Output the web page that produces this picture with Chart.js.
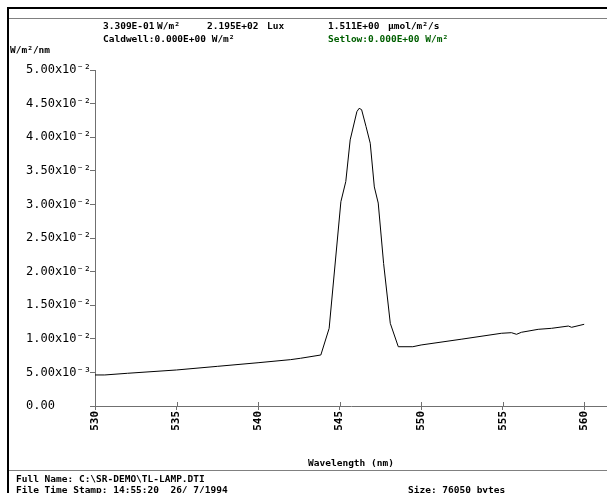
<!DOCTYPE html>
<html>
<head>
<meta charset="utf-8">
<script src="https://cdn.jsdelivr.net/npm/chart.js@4.4.0/dist/chart.umd.min.js"></script>
<style>
  html, body { margin: 0; padding: 0; background: #fff; }
  #wrap { position: relative; width: 607px; height: 493px; overflow: hidden;
          font-family: "DejaVu Sans Mono", monospace; font-size: 9.5px; font-weight: bold; color: #000; }
  #wrap canvas { position: absolute; left: 0; top: 0; }
  .t { position: absolute; white-space: pre; line-height: 12px; }
  .hl { position: absolute; left: 8px; right: 0; height: 0; }
</style>
</head>
<body>
<div id="wrap">
  <canvas id="chart" width="607" height="493"></canvas>

  <!-- cadre -->
  <div class="hl" style="top:7px;border-top:2px solid #000"></div>
  <div class="hl" style="top:18px;border-top:1px solid #808080"></div>
  <div class="hl" style="top:470px;border-top:1px solid #808080"></div>
  <div style="position:absolute;left:7px;top:7px;bottom:0;border-left:2px solid #000"></div>

  <!-- en-tête -->
  <div class="t" style="left:103px;top:20px">3.309E-01</div>
  <div class="t" style="left:157px;top:20px">W/m²</div>
  <div class="t" style="left:207px;top:20px">2.195E+02</div>
  <div class="t" style="left:267px;top:20px">Lux</div>
  <div class="t" style="left:328px;top:20px">1.511E+00</div>
  <div class="t" style="left:388px;top:20px">µmol/m²/s</div>
  <div class="t" style="left:103px;top:33px">Caldwell:0.000E+00 W/m²</div>
  <div class="t" style="left:328px;top:33px;color:#005f00">Setlow:0.000E+00 W/m²</div>
  <div class="t" style="left:10px;top:44px">W/m²/nm</div>

  <!-- pied -->
  <div class="t" style="left:16px;top:473px">Full Name: C:\SR-DEMO\TL-LAMP.DTI</div>
  <div class="t" style="left:16px;top:484px">File Time Stamp: 14:55:20  26/ 7/1994</div>
  <div class="t" style="left:408px;top:484px">Size: 76050 bytes</div>
</div>

<script>
// Spectre lampe TL (W/m²/nm)
const wavelength = [530.0, 530.6, 532.0, 535.0, 537.5, 540.0, 542.0, 542.6, 543.85, 544.36,
  545.08, 545.38, 545.65, 546.06, 546.2, 546.35, 546.62, 546.88, 547.13, 547.37,
  547.7, 548.11, 548.6, 549.49, 550.0, 552.5, 554.92, 555.54, 555.85, 556.15,
  557.18, 558.0, 559.03, 559.23, 560.0];
const irradiance = [0.00462, 0.00462, 0.00487, 0.00536, 0.0059, 0.00644, 0.0069, 0.0071, 0.00759, 0.01156,
  0.0304, 0.0334, 0.0396, 0.0438, 0.0443, 0.0441, 0.0416, 0.0391, 0.0326, 0.0302,
  0.0212, 0.0123, 0.00882, 0.00882, 0.00908, 0.00995, 0.01082, 0.01091, 0.01067, 0.01097,
  0.01141, 0.01156, 0.0119, 0.01171, 0.01216];

const xTicks = [530, 535, 540, 545, 550, 555, 560];
const yTicks = [0, 0.005, 0.01, 0.015, 0.02, 0.025, 0.03, 0.035, 0.04, 0.045, 0.05];
const yTickLabels = ['0.00', '5.00x10⁻³', '1.00x10⁻²', '1.50x10⁻²', '2.00x10⁻²', '2.50x10⁻²',
  '3.00x10⁻²', '3.50x10⁻²', '4.00x10⁻²', '4.50x10⁻²', '5.00x10⁻²'];

const AXIS_COLOR = '#707070';
const MONO = '"DejaVu Sans Mono", monospace';

// petits traits côté intérieur de l'axe X (les graduations traversent l'axe)
const innerTicks = {
  id: 'innerTicks',
  afterDraw(chart) {
    const { ctx, chartArea } = chart;
    const x = chart.scales.x;
    ctx.save();
    ctx.strokeStyle = AXIS_COLOR;
    ctx.lineWidth = 1;
    xTicks.forEach(v => {
      const px = Math.round(x.getPixelForValue(v)) + 0.5;
      ctx.beginPath();
      ctx.moveTo(px, chartArea.bottom);
      ctx.lineTo(px, chartArea.bottom - 4);
      ctx.stroke();
    });
    ctx.restore();
  }
};

new Chart(document.getElementById('chart'), {
  type: 'line',
  data: {
    datasets: [{
      data: wavelength.map((w, i) => ({ x: w, y: irradiance[i] })),
      borderColor: '#000',
      borderWidth: 1,
      pointRadius: 0,
      tension: 0,
      fill: false,
    }],
  },
  options: {
    responsive: false,
    animation: false,
    devicePixelRatio: 1,
    layout: { padding: { top: 70, right: 0, bottom: 21, left: 26 } },
    plugins: { legend: { display: false }, tooltip: { enabled: false } },
    scales: {
      x: {
        type: 'linear',
        min: 530,
        max: 561.4,
        afterBuildTicks: s => { s.ticks = xTicks.map(v => ({ value: v })); },
        afterFit: s => { s.height = 66; },
        ticks: {
          autoSkip: false,
          minRotation: 90,
          maxRotation: 90,
          padding: 1,
          color: '#000',
          font: { family: MONO, size: 11, weight: 'bold' },
          callback: v => String(v),
        },
        grid: { drawOnChartArea: false, tickLength: 4, color: AXIS_COLOR },
        border: { color: AXIS_COLOR },
        title: {
          display: true,
          text: 'Wavelength (nm)',
          color: '#000',
          font: { family: MONO, size: 9.5, weight: 'bold' },
          padding: { top: 0, bottom: 3 },
        },
      },
      y: {
        min: 0,
        max: 0.05,
        afterBuildTicks: s => { s.ticks = yTicks.map(v => ({ value: v })); },
        afterFit: s => { s.width = 69; },
        ticks: {
          crossAlign: 'far',
          padding: 0,
          color: '#000',
          font: { family: MONO, size: 12 },
          callback: (v, i) => yTickLabels[i],
        },
        grid: { drawOnChartArea: false, tickLength: 5, color: AXIS_COLOR },
        border: { color: AXIS_COLOR },
      },
    },
  },
  plugins: [innerTicks],
});
</script>
</body>
</html>
